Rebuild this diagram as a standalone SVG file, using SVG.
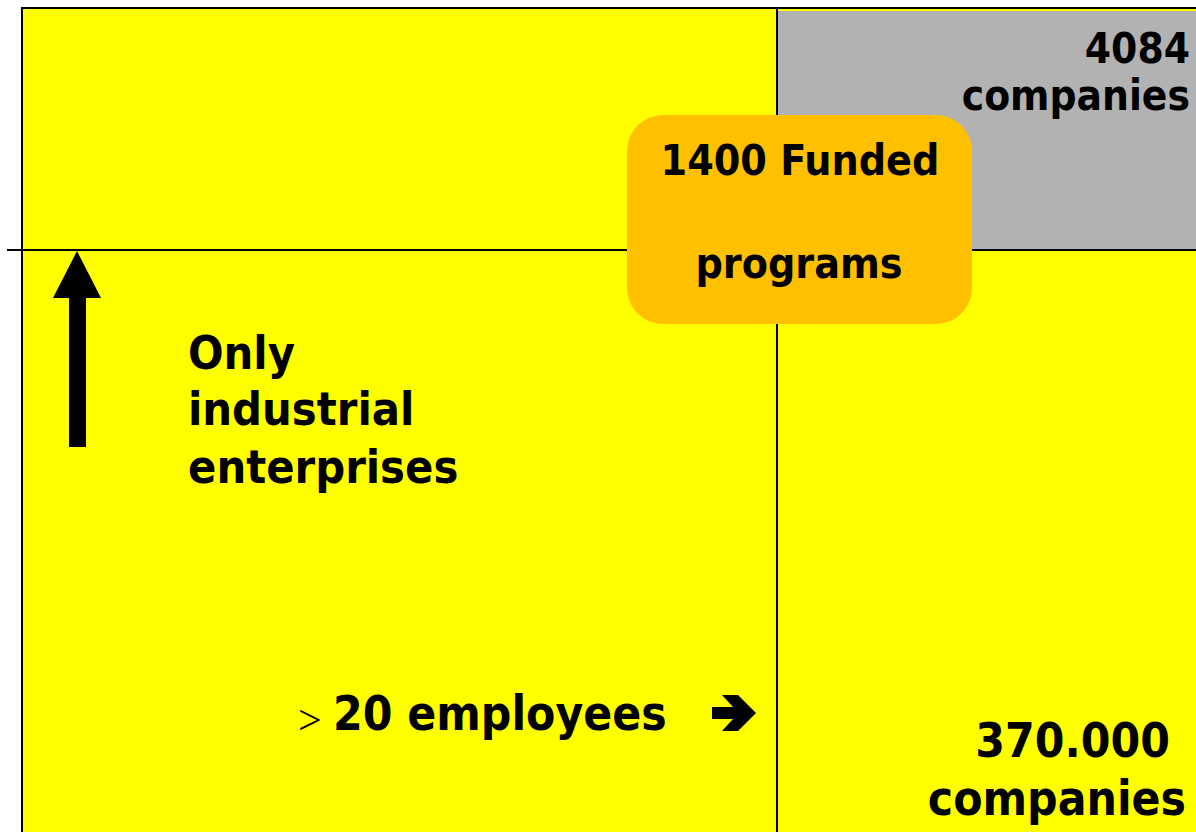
<svg xmlns="http://www.w3.org/2000/svg" width="1196" height="832" viewBox="0 0 1196 832">
<style>
.t{font-family:"DejaVu Sans","Liberation Sans",sans-serif;font-weight:bold;fill:#000;font-stretch:condensed}
.ln{stroke:#000;stroke-width:2;fill:none}
</style>
<rect x="0" y="0" width="1196" height="832" fill="#fff"/>
<g id="background">
<rect x="22" y="8" width="1180" height="830" fill="#ffff00" stroke="#000" stroke-width="2"/>
<rect x="778" y="11" width="418" height="239" fill="#b2b2b2"/>
</g>
<g id="connectors">
<line class="ln" x1="7" y1="250" x2="1196" y2="250"/>
<line class="ln" x1="777" y1="8" x2="777" y2="832"/>
<path d="M77 251 L101 298 L86 298 L86 447 L69 447 L69 298 L53 298 Z" fill="#000"/>
<path d="M712 707 L733 707 L722 695 L738 695 L756 713 L738 731 L722 731 L733 719 L712 719 Z" fill="#000"/>
</g>
<g id="top-right">
<text class="t" x="1190" y="63" font-size="42" text-anchor="end">4084</text>
<text class="t" x="1190" y="110" font-size="42" text-anchor="end">companies</text>
</g>
<g id="funded">
<rect x="627" y="115" width="345" height="209" rx="36" fill="#ffc000"/>
<text class="t" x="800" y="175" font-size="42.5" text-anchor="middle">1400 Funded</text>
<text class="t" x="799" y="278" font-size="42.5" text-anchor="middle">programs</text>
</g>
<g id="industrial">
<text class="t" x="188" y="369" font-size="46.5">Only</text>
<text class="t" x="188" y="425" font-size="46.5">industrial</text>
<text class="t" x="188" y="483" font-size="46.5">enterprises</text>
</g>
<g id="employees">
<text x="298" y="734" font-family="Liberation Serif,serif" font-size="42">&gt;</text>
<text class="t" x="333" y="730" font-size="47.5">20 employees</text>
</g>
<g id="bottom-right">
<text class="t" x="1170" y="757" font-size="47.5" text-anchor="end">370.000</text>
<text class="t" x="1186" y="815" font-size="47.5" text-anchor="end">companies</text>
</g>
</svg>
